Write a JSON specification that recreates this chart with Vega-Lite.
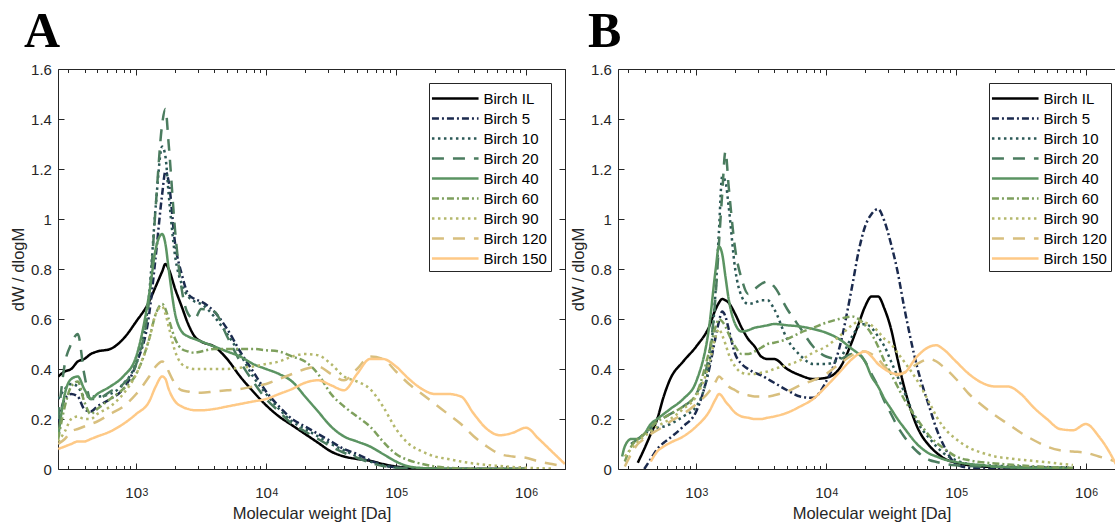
{
"$schema": "https://vega.github.io/schema/vega-lite/v6.json",
"padding": {"left": 10, "top": 7, "right": 0, "bottom": 0},
"spacing": 4,
"config": {
 "view": {"stroke": null},
 "font": "Liberation Sans",
 "axis": {"grid": false, "labelFont": "Liberation Sans", "titleFont": "Liberation Sans", "labelFontSize": 15, "titleFontSize": 16.5, "titleFontWeight": "normal", "labelColor": "#262626", "titleColor": "#262626", "domainColor": "#262626", "tickColor": "#262626", "domainWidth": 1, "tickWidth": 1, "labelFlush": false, "labelOverlap": false},
 "legend": {"orient": "top-right", "offset": 14, "padding": 4, "strokeColor": "#262626", "fillColor": "#ffffff", "symbolType": "M-2.33,0H2.33", "symbolSize": 400, "symbolOffset": 10.75, "symbolStrokeWidth": 2.5, "labelFont": "Liberation Sans", "labelFontSize": 15, "labelColor": "#000000", "labelOffset": 16.75, "rowPadding": 0, "labelLimit": 200}
},
"resolve": {"scale": {"x": "independent", "y": "independent", "color": "independent", "strokeDash": "independent"}, "axis": {"x": "independent", "y": "independent"}, "legend": {"color": "independent", "strokeDash": "independent"}},
"datasets": {
"a": [
{"m":251,"Birch IL":0.37,"Birch 5":0.19,"Birch 10":0.28,"Birch 20":0.2,"Birch 40":0.13,"Birch 60":0.12,"Birch 90":0.11,"Birch 120":0.1,"Birch 150":0.08},
{"m":282,"Birch IL":0.39,"Birch 5":0.28,"Birch 10":0.32,"Birch 20":0.42,"Birch 40":0.3,"Birch 60":0.25,"Birch 90":0.15,"Birch 120":0.12,"Birch 150":0.09},
{"m":316,"Birch IL":0.4,"Birch 5":0.3,"Birch 10":0.34,"Birch 20":0.5,"Birch 40":0.36,"Birch 60":0.33,"Birch 90":0.2,"Birch 120":0.15,"Birch 150":0.1},
{"m":355,"Birch IL":0.43,"Birch 5":0.29,"Birch 10":0.33,"Birch 20":0.54,"Birch 40":0.37,"Birch 60":0.35,"Birch 90":0.21,"Birch 120":0.16,"Birch 150":0.11},
{"m":398,"Birch IL":0.44,"Birch 5":0.24,"Birch 10":0.29,"Birch 20":0.38,"Birch 40":0.32,"Birch 60":0.27,"Birch 90":0.2,"Birch 120":0.17,"Birch 150":0.11},
{"m":447,"Birch IL":0.46,"Birch 5":0.23,"Birch 10":0.29,"Birch 20":0.28,"Birch 40":0.28,"Birch 60":0.22,"Birch 90":0.2,"Birch 120":0.18,"Birch 150":0.12},
{"m":501,"Birch IL":0.47,"Birch 5":0.25,"Birch 10":0.29,"Birch 20":0.28,"Birch 40":0.3,"Birch 60":0.24,"Birch 90":0.22,"Birch 120":0.19,"Birch 150":0.13},
{"m":631,"Birch IL":0.48,"Birch 5":0.28,"Birch 10":0.3,"Birch 20":0.31,"Birch 40":0.33,"Birch 60":0.28,"Birch 90":0.25,"Birch 120":0.22,"Birch 150":0.15},
{"m":794,"Birch IL":0.52,"Birch 5":0.32,"Birch 10":0.34,"Birch 20":0.34,"Birch 40":0.37,"Birch 60":0.32,"Birch 90":0.3,"Birch 120":0.25,"Birch 150":0.18},
{"m":1000,"Birch IL":0.59,"Birch 5":0.42,"Birch 10":0.43,"Birch 20":0.42,"Birch 40":0.45,"Birch 60":0.38,"Birch 90":0.38,"Birch 120":0.3,"Birch 150":0.22},
{"m":1259,"Birch IL":0.67,"Birch 5":0.62,"Birch 10":0.7,"Birch 20":0.68,"Birch 40":0.7,"Birch 60":0.52,"Birch 90":0.52,"Birch 120":0.37,"Birch 150":0.27},
{"m":1413,"Birch IL":0.73,"Birch 5":0.85,"Birch 10":1.05,"Birch 20":1.05,"Birch 40":0.88,"Birch 60":0.62,"Birch 90":0.62,"Birch 120":0.41,"Birch 150":0.33},
{"m":1585,"Birch IL":0.79,"Birch 5":1.1,"Birch 10":1.29,"Birch 20":1.38,"Birch 40":0.94,"Birch 60":0.66,"Birch 90":0.65,"Birch 120":0.43,"Birch 150":0.37},
{"m":1679,"Birch IL":0.82,"Birch 5":1.19,"Birch 10":1.25,"Birch 20":1.44,"Birch 40":0.9,"Birch 60":0.64,"Birch 90":0.62,"Birch 120":0.42,"Birch 150":0.36},
{"m":1778,"Birch IL":0.8,"Birch 5":1.15,"Birch 10":1.1,"Birch 20":1.3,"Birch 40":0.8,"Birch 60":0.6,"Birch 90":0.57,"Birch 120":0.39,"Birch 150":0.32},
{"m":1995,"Birch IL":0.72,"Birch 5":0.9,"Birch 10":0.85,"Birch 20":0.95,"Birch 40":0.62,"Birch 60":0.52,"Birch 90":0.47,"Birch 120":0.34,"Birch 150":0.27},
{"m":2239,"Birch IL":0.65,"Birch 5":0.78,"Birch 10":0.74,"Birch 20":0.72,"Birch 40":0.55,"Birch 60":0.48,"Birch 90":0.42,"Birch 120":0.315,"Birch 150":0.25},
{"m":2512,"Birch IL":0.58,"Birch 5":0.7,"Birch 10":0.69,"Birch 20":0.62,"Birch 40":0.53,"Birch 60":0.47,"Birch 90":0.405,"Birch 120":0.31,"Birch 150":0.24},
{"m":2818,"Birch IL":0.53,"Birch 5":0.68,"Birch 10":0.67,"Birch 20":0.6,"Birch 40":0.52,"Birch 60":0.465,"Birch 90":0.4,"Birch 120":0.305,"Birch 150":0.235},
{"m":3162,"Birch IL":0.51,"Birch 5":0.67,"Birch 10":0.66,"Birch 20":0.64,"Birch 40":0.51,"Birch 60":0.47,"Birch 90":0.4,"Birch 120":0.305,"Birch 150":0.235},
{"m":3981,"Birch IL":0.49,"Birch 5":0.63,"Birch 10":0.61,"Birch 20":0.63,"Birch 40":0.49,"Birch 60":0.48,"Birch 90":0.4,"Birch 120":0.31,"Birch 150":0.24},
{"m":5012,"Birch IL":0.44,"Birch 5":0.56,"Birch 10":0.54,"Birch 20":0.53,"Birch 40":0.47,"Birch 60":0.48,"Birch 90":0.4,"Birch 120":0.315,"Birch 150":0.25},
{"m":6310,"Birch IL":0.37,"Birch 5":0.47,"Birch 10":0.46,"Birch 20":0.43,"Birch 40":0.45,"Birch 60":0.48,"Birch 90":0.405,"Birch 120":0.32,"Birch 150":0.26},
{"m":7943,"Birch IL":0.31,"Birch 5":0.39,"Birch 10":0.37,"Birch 20":0.35,"Birch 40":0.42,"Birch 60":0.48,"Birch 90":0.41,"Birch 120":0.33,"Birch 150":0.27},
{"m":10000,"Birch IL":0.255,"Birch 5":0.31,"Birch 10":0.3,"Birch 20":0.28,"Birch 40":0.4,"Birch 60":0.475,"Birch 90":0.42,"Birch 120":0.34,"Birch 150":0.28},
{"m":12589,"Birch IL":0.21,"Birch 5":0.25,"Birch 10":0.24,"Birch 20":0.23,"Birch 40":0.38,"Birch 60":0.47,"Birch 90":0.43,"Birch 120":0.36,"Birch 150":0.3},
{"m":15849,"Birch IL":0.175,"Birch 5":0.2,"Birch 10":0.19,"Birch 20":0.18,"Birch 40":0.35,"Birch 60":0.45,"Birch 90":0.45,"Birch 120":0.38,"Birch 150":0.32},
{"m":19953,"Birch IL":0.14,"Birch 5":0.17,"Birch 10":0.16,"Birch 20":0.15,"Birch 40":0.29,"Birch 60":0.43,"Birch 90":0.46,"Birch 120":0.4,"Birch 150":0.345},
{"m":25119,"Birch IL":0.105,"Birch 5":0.14,"Birch 10":0.13,"Birch 20":0.12,"Birch 40":0.23,"Birch 60":0.38,"Birch 90":0.455,"Birch 120":0.41,"Birch 150":0.355},
{"m":31623,"Birch IL":0.07,"Birch 5":0.11,"Birch 10":0.1,"Birch 20":0.09,"Birch 40":0.17,"Birch 60":0.3,"Birch 90":0.42,"Birch 120":0.38,"Birch 150":0.335},
{"m":39811,"Birch IL":0.05,"Birch 5":0.08,"Birch 10":0.075,"Birch 20":0.065,"Birch 40":0.13,"Birch 60":0.25,"Birch 90":0.37,"Birch 120":0.355,"Birch 150":0.315},
{"m":50119,"Birch IL":0.04,"Birch 5":0.06,"Birch 10":0.05,"Birch 20":0.045,"Birch 40":0.11,"Birch 60":0.21,"Birch 90":0.35,"Birch 120":0.4,"Birch 150":0.38},
{"m":63096,"Birch IL":0.033,"Birch 5":0.035,"Birch 10":0.03,"Birch 20":0.025,"Birch 40":0.09,"Birch 60":0.17,"Birch 90":0.32,"Birch 120":0.45,"Birch 150":0.44},
{"m":79433,"Birch IL":0.02,"Birch 5":0.015,"Birch 10":0.015,"Birch 20":0.012,"Birch 40":0.06,"Birch 60":0.11,"Birch 90":0.25,"Birch 120":0.44,"Birch 150":0.44},
{"m":100000,"Birch IL":0.01,"Birch 5":0.007,"Birch 10":0.006,"Birch 20":0.005,"Birch 40":0.03,"Birch 60":0.06,"Birch 90":0.16,"Birch 120":0.39,"Birch 150":0.41},
{"m":125893,"Birch IL":0.005,"Birch 5":0.003,"Birch 10":0.002,"Birch 20":0.002,"Birch 40":0.01,"Birch 60":0.035,"Birch 90":0.1,"Birch 120":0.34,"Birch 150":0.36},
{"m":158489,"Birch IL":0.002,"Birch 5":0.001,"Birch 10":0,"Birch 20":0,"Birch 40":0.004,"Birch 60":0.02,"Birch 90":0.07,"Birch 120":0.3,"Birch 150":0.32},
{"m":199526,"Birch IL":0.001,"Birch 5":0,"Birch 10":0,"Birch 20":0,"Birch 40":0.002,"Birch 60":0.01,"Birch 90":0.05,"Birch 120":0.26,"Birch 150":0.3},
{"m":251189,"Birch IL":0,"Birch 5":0,"Birch 10":0,"Birch 20":0,"Birch 40":0.001,"Birch 60":0.005,"Birch 90":0.04,"Birch 120":0.22,"Birch 150":0.3},
{"m":316228,"Birch IL":0,"Birch 5":0,"Birch 10":0,"Birch 20":0,"Birch 40":0,"Birch 60":0.002,"Birch 90":0.03,"Birch 120":0.18,"Birch 150":0.29},
{"m":398107,"Birch IL":0,"Birch 5":0,"Birch 10":0,"Birch 20":0,"Birch 40":0,"Birch 60":0.001,"Birch 90":0.022,"Birch 120":0.13,"Birch 150":0.22},
{"m":501187,"Birch IL":0,"Birch 5":0,"Birch 10":0,"Birch 20":0,"Birch 40":0,"Birch 60":0,"Birch 90":0.016,"Birch 120":0.09,"Birch 150":0.16},
{"m":630957,"Birch IL":0,"Birch 5":0,"Birch 10":0,"Birch 20":0,"Birch 40":0,"Birch 60":0,"Birch 90":0.012,"Birch 120":0.06,"Birch 150":0.135},
{"m":794328,"Birch IL":0,"Birch 5":0,"Birch 10":0,"Birch 20":0,"Birch 40":0,"Birch 60":0,"Birch 90":0.008,"Birch 120":0.05,"Birch 150":0.145},
{"m":1000000,"Birch IL":0,"Birch 5":0,"Birch 10":0,"Birch 20":0,"Birch 40":0,"Birch 60":0,"Birch 90":0.005,"Birch 120":0.045,"Birch 150":0.165},
{"m":1258925,"Birch IL":null,"Birch 5":null,"Birch 10":null,"Birch 20":null,"Birch 40":null,"Birch 60":null,"Birch 90":0.003,"Birch 120":0.03,"Birch 150":0.12},
{"m":1584893,"Birch IL":null,"Birch 5":null,"Birch 10":null,"Birch 20":null,"Birch 40":null,"Birch 60":null,"Birch 90":0.002,"Birch 120":0.02,"Birch 150":0.07},
{"m":1995262,"Birch IL":null,"Birch 5":null,"Birch 10":null,"Birch 20":null,"Birch 40":null,"Birch 60":null,"Birch 90":null,"Birch 120":0.01,"Birch 150":0.02}
],
"b": [
{"m":269,"Birch IL":null,"Birch 5":null,"Birch 10":null,"Birch 20":null,"Birch 40":0.05,"Birch 60":null,"Birch 90":null,"Birch 120":null,"Birch 150":null},
{"m":282,"Birch IL":null,"Birch 5":null,"Birch 10":null,"Birch 20":null,"Birch 40":0.09,"Birch 60":0.03,"Birch 90":0.05,"Birch 120":0.01,"Birch 150":null},
{"m":316,"Birch IL":null,"Birch 5":null,"Birch 10":0.1,"Birch 20":0.1,"Birch 40":0.12,"Birch 60":0.09,"Birch 90":0.08,"Birch 120":0.06,"Birch 150":null},
{"m":355,"Birch IL":0.025,"Birch 5":null,"Birch 10":0.12,"Birch 20":0.12,"Birch 40":0.12,"Birch 60":0.12,"Birch 90":0.11,"Birch 120":0.1,"Birch 150":null},
{"m":398,"Birch IL":0.08,"Birch 5":0,"Birch 10":0.14,"Birch 20":0.14,"Birch 40":0.14,"Birch 60":0.14,"Birch 90":0.13,"Birch 120":0.12,"Birch 150":null},
{"m":447,"Birch IL":0.14,"Birch 5":0.04,"Birch 10":0.155,"Birch 20":0.165,"Birch 40":0.18,"Birch 60":0.165,"Birch 90":0.15,"Birch 120":0.14,"Birch 150":0.03},
{"m":501,"Birch IL":0.2,"Birch 5":0.08,"Birch 10":0.165,"Birch 20":0.19,"Birch 40":0.2,"Birch 60":0.19,"Birch 90":0.17,"Birch 120":0.155,"Birch 150":0.07},
{"m":562,"Birch IL":0.29,"Birch 5":0.105,"Birch 10":0.17,"Birch 20":0.205,"Birch 40":0.22,"Birch 60":0.205,"Birch 90":0.185,"Birch 120":0.17,"Birch 150":0.09},
{"m":631,"Birch IL":0.36,"Birch 5":0.125,"Birch 10":0.18,"Birch 20":0.22,"Birch 40":0.24,"Birch 60":0.22,"Birch 90":0.2,"Birch 120":0.19,"Birch 150":0.105},
{"m":794,"Birch IL":0.43,"Birch 5":0.17,"Birch 10":0.21,"Birch 20":0.25,"Birch 40":0.28,"Birch 60":0.25,"Birch 90":0.24,"Birch 120":0.22,"Birch 150":0.13},
{"m":1000,"Birch IL":0.49,"Birch 5":0.23,"Birch 10":0.25,"Birch 20":0.3,"Birch 40":0.35,"Birch 60":0.3,"Birch 90":0.29,"Birch 120":0.26,"Birch 150":0.17},
{"m":1259,"Birch IL":0.57,"Birch 5":0.4,"Birch 10":0.42,"Birch 20":0.46,"Birch 40":0.57,"Birch 60":0.47,"Birch 90":0.42,"Birch 120":0.31,"Birch 150":0.23},
{"m":1413,"Birch IL":0.64,"Birch 5":0.53,"Birch 10":0.72,"Birch 20":0.7,"Birch 40":0.8,"Birch 60":0.57,"Birch 90":0.53,"Birch 120":0.35,"Birch 150":0.28},
{"m":1496,"Birch IL":0.665,"Birch 5":0.59,"Birch 10":0.95,"Birch 20":0.9,"Birch 40":0.89,"Birch 60":0.6,"Birch 90":0.56,"Birch 120":0.37,"Birch 150":0.3},
{"m":1585,"Birch IL":0.68,"Birch 5":0.63,"Birch 10":1.17,"Birch 20":1.1,"Birch 40":0.86,"Birch 60":0.59,"Birch 90":0.535,"Birch 120":0.36,"Birch 150":0.29},
{"m":1679,"Birch IL":0.675,"Birch 5":0.61,"Birch 10":1.15,"Birch 20":1.27,"Birch 40":0.77,"Birch 60":0.57,"Birch 90":0.5,"Birch 120":0.345,"Birch 150":0.27},
{"m":1778,"Birch IL":0.665,"Birch 5":0.56,"Birch 10":1.05,"Birch 20":1.13,"Birch 40":0.68,"Birch 60":0.54,"Birch 90":0.46,"Birch 120":0.33,"Birch 150":0.255},
{"m":1995,"Birch IL":0.62,"Birch 5":0.46,"Birch 10":0.8,"Birch 20":0.88,"Birch 40":0.58,"Birch 60":0.49,"Birch 90":0.41,"Birch 120":0.315,"Birch 150":0.225},
{"m":2239,"Birch IL":0.565,"Birch 5":0.42,"Birch 10":0.69,"Birch 20":0.76,"Birch 40":0.55,"Birch 60":0.46,"Birch 90":0.385,"Birch 120":0.3,"Birch 150":0.21},
{"m":2512,"Birch IL":0.52,"Birch 5":0.4,"Birch 10":0.66,"Birch 20":0.7,"Birch 40":0.555,"Birch 60":0.46,"Birch 90":0.38,"Birch 120":0.295,"Birch 150":0.205},
{"m":2818,"Birch IL":0.49,"Birch 5":0.385,"Birch 10":0.665,"Birch 20":0.72,"Birch 40":0.565,"Birch 60":0.47,"Birch 90":0.38,"Birch 120":0.29,"Birch 150":0.2},
{"m":3162,"Birch IL":0.45,"Birch 5":0.375,"Birch 10":0.675,"Birch 20":0.74,"Birch 40":0.57,"Birch 60":0.485,"Birch 90":0.385,"Birch 120":0.29,"Birch 150":0.2},
{"m":3548,"Birch IL":0.44,"Birch 5":0.36,"Birch 10":0.675,"Birch 20":0.75,"Birch 40":0.575,"Birch 60":0.5,"Birch 90":0.39,"Birch 120":0.29,"Birch 150":0.205},
{"m":3981,"Birch IL":0.44,"Birch 5":0.345,"Birch 10":0.64,"Birch 20":0.73,"Birch 40":0.58,"Birch 60":0.505,"Birch 90":0.4,"Birch 120":0.295,"Birch 150":0.21},
{"m":5012,"Birch IL":0.4,"Birch 5":0.315,"Birch 10":0.52,"Birch 20":0.64,"Birch 40":0.575,"Birch 60":0.52,"Birch 90":0.415,"Birch 120":0.31,"Birch 150":0.225},
{"m":6310,"Birch IL":0.375,"Birch 5":0.29,"Birch 10":0.455,"Birch 20":0.565,"Birch 40":0.57,"Birch 60":0.545,"Birch 90":0.435,"Birch 120":0.335,"Birch 150":0.25},
{"m":7943,"Birch IL":0.36,"Birch 5":0.285,"Birch 10":0.42,"Birch 20":0.49,"Birch 40":0.56,"Birch 60":0.565,"Birch 90":0.465,"Birch 120":0.355,"Birch 150":0.28},
{"m":10000,"Birch IL":0.365,"Birch 5":0.35,"Birch 10":0.42,"Birch 20":0.45,"Birch 40":0.545,"Birch 60":0.585,"Birch 90":0.49,"Birch 120":0.38,"Birch 150":0.33},
{"m":12589,"Birch IL":0.4,"Birch 5":0.48,"Birch 10":0.44,"Birch 20":0.44,"Birch 40":0.52,"Birch 60":0.6,"Birch 90":0.53,"Birch 120":0.42,"Birch 150":0.385},
{"m":15849,"Birch IL":0.51,"Birch 5":0.73,"Birch 10":0.53,"Birch 20":0.46,"Birch 40":0.48,"Birch 60":0.61,"Birch 90":0.575,"Birch 120":0.455,"Birch 150":0.44},
{"m":17783,"Birch IL":0.58,"Birch 5":0.87,"Birch 10":0.57,"Birch 20":0.46,"Birch 40":0.46,"Birch 60":0.6,"Birch 90":0.59,"Birch 120":0.47,"Birch 150":0.46},
{"m":19953,"Birch IL":0.65,"Birch 5":0.97,"Birch 10":0.58,"Birch 20":0.43,"Birch 40":0.43,"Birch 60":0.575,"Birch 90":0.585,"Birch 120":0.47,"Birch 150":0.47},
{"m":22387,"Birch IL":0.69,"Birch 5":1.02,"Birch 10":0.565,"Birch 20":0.38,"Birch 40":0.37,"Birch 60":0.54,"Birch 90":0.575,"Birch 120":0.46,"Birch 150":0.45},
{"m":25119,"Birch IL":0.69,"Birch 5":1.04,"Birch 10":0.53,"Birch 20":0.33,"Birch 40":0.33,"Birch 60":0.49,"Birch 90":0.55,"Birch 120":0.44,"Birch 150":0.42},
{"m":28184,"Birch IL":0.64,"Birch 5":0.99,"Birch 10":0.49,"Birch 20":0.27,"Birch 40":0.28,"Birch 60":0.43,"Birch 90":0.52,"Birch 120":0.41,"Birch 150":0.4},
{"m":31623,"Birch IL":0.56,"Birch 5":0.9,"Birch 10":0.43,"Birch 20":0.22,"Birch 40":0.24,"Birch 60":0.38,"Birch 90":0.5,"Birch 120":0.385,"Birch 150":0.385},
{"m":35481,"Birch IL":0.44,"Birch 5":0.79,"Birch 10":0.37,"Birch 20":0.17,"Birch 40":0.2,"Birch 60":0.33,"Birch 90":0.465,"Birch 120":0.375,"Birch 150":0.38},
{"m":39811,"Birch IL":0.33,"Birch 5":0.65,"Birch 10":0.31,"Birch 20":0.13,"Birch 40":0.165,"Birch 60":0.28,"Birch 90":0.43,"Birch 120":0.385,"Birch 150":0.385},
{"m":50119,"Birch IL":0.17,"Birch 5":0.41,"Birch 10":0.19,"Birch 20":0.07,"Birch 40":0.1,"Birch 60":0.2,"Birch 90":0.355,"Birch 120":0.42,"Birch 150":0.45},
{"m":63096,"Birch IL":0.09,"Birch 5":0.24,"Birch 10":0.12,"Birch 20":0.035,"Birch 40":0.06,"Birch 60":0.13,"Birch 90":0.26,"Birch 120":0.44,"Birch 150":0.49},
{"m":70795,"Birch IL":0.065,"Birch 5":0.16,"Birch 10":0.09,"Birch 20":0.028,"Birch 40":0.05,"Birch 60":0.105,"Birch 90":0.21,"Birch 120":0.43,"Birch 150":0.495},
{"m":79433,"Birch IL":0.045,"Birch 5":0.1,"Birch 10":0.065,"Birch 20":0.022,"Birch 40":0.04,"Birch 60":0.085,"Birch 90":0.17,"Birch 120":0.41,"Birch 150":0.48},
{"m":100000,"Birch IL":0.025,"Birch 5":0.02,"Birch 10":0.035,"Birch 20":0.015,"Birch 40":0.028,"Birch 60":0.05,"Birch 90":0.12,"Birch 120":0.36,"Birch 150":0.43},
{"m":125893,"Birch IL":0.015,"Birch 5":0.005,"Birch 10":0.02,"Birch 20":0.012,"Birch 40":0.02,"Birch 60":0.035,"Birch 90":0.085,"Birch 120":0.3,"Birch 150":0.38},
{"m":158489,"Birch IL":0.01,"Birch 5":0.002,"Birch 10":0.015,"Birch 20":0.01,"Birch 40":0.015,"Birch 60":0.027,"Birch 90":0.065,"Birch 120":0.255,"Birch 150":0.345},
{"m":199526,"Birch IL":0.008,"Birch 5":0,"Birch 10":0.013,"Birch 20":0.009,"Birch 40":0.01,"Birch 60":0.022,"Birch 90":0.05,"Birch 120":0.215,"Birch 150":0.33},
{"m":251189,"Birch IL":0.006,"Birch 5":0,"Birch 10":0.011,"Birch 20":0.008,"Birch 40":0.007,"Birch 60":0.018,"Birch 90":0.043,"Birch 120":0.18,"Birch 150":0.33},
{"m":316228,"Birch IL":0.005,"Birch 5":0,"Birch 10":0.01,"Birch 20":0.007,"Birch 40":0.005,"Birch 60":0.014,"Birch 90":0.037,"Birch 120":0.145,"Birch 150":0.3},
{"m":398107,"Birch IL":0.005,"Birch 5":0,"Birch 10":0.008,"Birch 20":0.006,"Birch 40":0.004,"Birch 60":0.011,"Birch 90":0.032,"Birch 120":0.115,"Birch 150":0.245},
{"m":501187,"Birch IL":0.005,"Birch 5":0,"Birch 10":0.007,"Birch 20":0.005,"Birch 40":0.003,"Birch 60":0.008,"Birch 90":0.027,"Birch 120":0.09,"Birch 150":0.2},
{"m":630957,"Birch IL":0.004,"Birch 5":0,"Birch 10":0.006,"Birch 20":0.005,"Birch 40":0.002,"Birch 60":0.006,"Birch 90":0.021,"Birch 120":0.075,"Birch 150":0.16},
{"m":794328,"Birch IL":0.003,"Birch 5":0,"Birch 10":0.005,"Birch 20":0.005,"Birch 40":0.002,"Birch 60":0.005,"Birch 90":0.016,"Birch 120":0.07,"Birch 150":0.155},
{"m":1000000,"Birch IL":null,"Birch 5":null,"Birch 10":null,"Birch 20":null,"Birch 40":null,"Birch 60":null,"Birch 90":null,"Birch 120":0.065,"Birch 150":0.18},
{"m":1258925,"Birch IL":null,"Birch 5":null,"Birch 10":null,"Birch 20":null,"Birch 40":null,"Birch 60":null,"Birch 90":null,"Birch 120":0.05,"Birch 150":0.13},
{"m":1584893,"Birch IL":null,"Birch 5":null,"Birch 10":null,"Birch 20":null,"Birch 40":null,"Birch 60":null,"Birch 90":null,"Birch 120":0.035,"Birch 150":0.05},
{"m":1698244,"Birch IL":null,"Birch 5":null,"Birch 10":null,"Birch 20":null,"Birch 40":null,"Birch 60":null,"Birch 90":null,"Birch 120":0.03,"Birch 150":0.02}
]
},
"hconcat": [
{
 "width": 507, "height": 400,
 "title": {"text": "A", "anchor": "start", "frame": "group", "dx": -34, "offset": -35, "baseline": "alphabetic", "font": "Liberation Serif", "fontSize": 50, "fontWeight": "bold", "color": "#000000"},
 "data": {"name": "a"},
 "transform": [{"fold": ["Birch IL", "Birch 5", "Birch 10", "Birch 20", "Birch 40", "Birch 60", "Birch 90", "Birch 120", "Birch 150"], "as": ["s", "v"]}],
 "layer": [
  {"mark": {"type": "line", "strokeWidth": 2.5, "clip": true, "interpolate": "monotone", "invalid": "break-paths-show-domains"},
   "encoding": {
    "x": {"field": "m", "type": "quantitative", "scale": {"type": "log", "domain": [250, 2000000], "nice": false}, "axis": {"orient": "bottom", "values": [1000, 10000, 100000, 1000000], "tickSize": -6, "labelExpr": "'10'", "labelOffset": -3, "labelPadding": 22, "labelBaseline": "top", "title": "Molecular weight [Da]", "titlePadding": 5, "domain": true}},
    "y": {"field": "v", "type": "quantitative", "scale": {"domain": [0, 1.6], "nice": false, "zero": false}, "axis": {"orient": "left", "values": [0, 0.2, 0.4, 0.6, 0.8, 1, 1.2, 1.4, 1.6], "tickSize": -6, "format": ".1~f", "labelPadding": 12.6, "title": "dW / dlogM", "titlePadding": 4, "domain": true}},
    "color": {"field": "s", "type": "nominal", "scale": {"domain": ["Birch IL", "Birch 5", "Birch 10", "Birch 20", "Birch 40", "Birch 60", "Birch 90", "Birch 120", "Birch 150"], "range": ["#000000", "#1b2a4e", "#2b5856", "#4b7c5f", "#5b9462", "#7ea05d", "#b4b86c", "#d8bf7e", "#fec986"]}, "legend": {"title": null}},
    "strokeDash": {"field": "s", "type": "nominal", "scale": {"domain": ["Birch IL", "Birch 5", "Birch 10", "Birch 20", "Birch 40", "Birch 60", "Birch 90", "Birch 120", "Birch 150"], "range": [[1, 0], [7, 3, 2, 3], [2.5, 3.5], [12, 9], [1, 0], [7, 3, 2, 3], [2.5, 3.5], [12, 9], [1, 0]]}, "legend": {"title": null}}
   }},
  {"mark": {"type": "point", "opacity": 0, "size": 1},
   "encoding": {
    "x": {"field": "m", "type": "quantitative", "scale": {"type": "log", "domain": [250, 2000000], "nice": false}, "axis": {"orient": "bottom", "values": [300, 400, 500, 600, 700, 800, 900, 2000, 3000, 4000, 5000, 6000, 7000, 8000, 9000, 20000, 30000, 40000, 50000, 60000, 70000, 80000, 90000, 200000, 300000, 400000, 500000, 600000, 700000, 800000, 900000, 2000000], "tickSize": -3.5, "labels": false, "domain": false, "title": null}},
    "y": {"field": "v", "type": "quantitative", "scale": {"domain": [0, 1.6], "nice": false, "zero": false}, "axis": {"orient": "right", "values": [0, 0.2, 0.4, 0.6, 0.8, 1, 1.2, 1.4, 1.6], "tickSize": -6, "labels": false, "domain": true, "title": null}}
   }},
  {"mark": {"type": "point", "opacity": 0, "size": 1},
   "encoding": {
    "x": {"field": "m", "type": "quantitative", "scale": {"type": "log", "domain": [250, 2000000], "nice": false}, "axis": {"orient": "top", "values": [1000, 10000, 100000, 1000000], "tickSize": -6, "labels": false, "domain": true, "title": null}},
    "y": {"field": "v", "type": "quantitative", "scale": {"domain": [0, 1.6], "nice": false, "zero": false}, "axis": null}
   }},
  {"mark": {"type": "point", "opacity": 0, "size": 1},
   "encoding": {
    "x": {"field": "m", "type": "quantitative", "scale": {"type": "log", "domain": [250, 2000000], "nice": false}, "axis": {"orient": "top", "values": [300, 400, 500, 600, 700, 800, 900, 2000, 3000, 4000, 5000, 6000, 7000, 8000, 9000, 20000, 30000, 40000, 50000, 60000, 70000, 80000, 90000, 200000, 300000, 400000, 500000, 600000, 700000, 800000, 900000, 2000000], "tickSize": -3.5, "labels": false, "domain": false, "title": null}},
    "y": {"field": "v", "type": "quantitative", "scale": {"domain": [0, 1.6], "nice": false, "zero": false}, "axis": null}
   }},
  {"mark": {"type": "point", "opacity": 0, "size": 1},
   "encoding": {
    "x": {"field": "m", "type": "quantitative", "scale": {"type": "log", "domain": [250, 2000000], "nice": false}, "axis": {"orient": "bottom", "values": [1000, 10000, 100000, 1000000], "ticks": false, "domain": false, "labelExpr": "datum.value == 1000 ? '3' : datum.value == 10000 ? '4' : datum.value == 100000 ? '5' : '6'", "labelFontSize": 10.5, "labelOffset": 8.7, "labelPadding": 18, "labelBaseline": "top", "title": null}},
    "y": {"field": "v", "type": "quantitative", "scale": {"domain": [0, 1.6], "nice": false, "zero": false}, "axis": null}
   }}
 ],
 "resolve": {"axis": {"x": "independent", "y": "independent"}}
},
{
 "width": 507, "height": 400,
 "title": {"text": "B", "anchor": "start", "frame": "group", "dx": -30, "offset": -35, "baseline": "alphabetic", "font": "Liberation Serif", "fontSize": 50, "fontWeight": "bold", "color": "#000000"},
 "data": {"name": "b"},
 "transform": [{"fold": ["Birch IL", "Birch 5", "Birch 10", "Birch 20", "Birch 40", "Birch 60", "Birch 90", "Birch 120", "Birch 150"], "as": ["s", "v"]}],
 "layer": [
  {"mark": {"type": "line", "strokeWidth": 2.5, "clip": true, "interpolate": "monotone", "invalid": "break-paths-show-domains"},
   "encoding": {
    "x": {"field": "m", "type": "quantitative", "scale": {"type": "log", "domain": [250, 2000000], "nice": false}, "axis": {"orient": "bottom", "values": [1000, 10000, 100000, 1000000], "tickSize": -6, "labelExpr": "'10'", "labelOffset": -3, "labelPadding": 22, "labelBaseline": "top", "title": "Molecular weight [Da]", "titlePadding": 5, "domain": true}},
    "y": {"field": "v", "type": "quantitative", "scale": {"domain": [0, 1.6], "nice": false, "zero": false}, "axis": {"orient": "left", "values": [0, 0.2, 0.4, 0.6, 0.8, 1, 1.2, 1.4, 1.6], "tickSize": -6, "format": ".1~f", "labelPadding": 12.6, "title": "dW / dlogM", "titlePadding": 4, "domain": true}},
    "color": {"field": "s", "type": "nominal", "scale": {"domain": ["Birch IL", "Birch 5", "Birch 10", "Birch 20", "Birch 40", "Birch 60", "Birch 90", "Birch 120", "Birch 150"], "range": ["#000000", "#1b2a4e", "#2b5856", "#4b7c5f", "#5b9462", "#7ea05d", "#b4b86c", "#d8bf7e", "#fec986"]}, "legend": {"title": null}},
    "strokeDash": {"field": "s", "type": "nominal", "scale": {"domain": ["Birch IL", "Birch 5", "Birch 10", "Birch 20", "Birch 40", "Birch 60", "Birch 90", "Birch 120", "Birch 150"], "range": [[1, 0], [7, 3, 2, 3], [2.5, 3.5], [12, 9], [1, 0], [7, 3, 2, 3], [2.5, 3.5], [12, 9], [1, 0]]}, "legend": {"title": null}}
   }},
  {"mark": {"type": "point", "opacity": 0, "size": 1},
   "encoding": {
    "x": {"field": "m", "type": "quantitative", "scale": {"type": "log", "domain": [250, 2000000], "nice": false}, "axis": {"orient": "bottom", "values": [300, 400, 500, 600, 700, 800, 900, 2000, 3000, 4000, 5000, 6000, 7000, 8000, 9000, 20000, 30000, 40000, 50000, 60000, 70000, 80000, 90000, 200000, 300000, 400000, 500000, 600000, 700000, 800000, 900000, 2000000], "tickSize": -3.5, "labels": false, "domain": false, "title": null}},
    "y": {"field": "v", "type": "quantitative", "scale": {"domain": [0, 1.6], "nice": false, "zero": false}, "axis": {"orient": "right", "values": [0, 0.2, 0.4, 0.6, 0.8, 1, 1.2, 1.4, 1.6], "tickSize": -6, "labels": false, "domain": true, "title": null}}
   }},
  {"mark": {"type": "point", "opacity": 0, "size": 1},
   "encoding": {
    "x": {"field": "m", "type": "quantitative", "scale": {"type": "log", "domain": [250, 2000000], "nice": false}, "axis": {"orient": "top", "values": [1000, 10000, 100000, 1000000], "tickSize": -6, "labels": false, "domain": true, "title": null}},
    "y": {"field": "v", "type": "quantitative", "scale": {"domain": [0, 1.6], "nice": false, "zero": false}, "axis": null}
   }},
  {"mark": {"type": "point", "opacity": 0, "size": 1},
   "encoding": {
    "x": {"field": "m", "type": "quantitative", "scale": {"type": "log", "domain": [250, 2000000], "nice": false}, "axis": {"orient": "top", "values": [300, 400, 500, 600, 700, 800, 900, 2000, 3000, 4000, 5000, 6000, 7000, 8000, 9000, 20000, 30000, 40000, 50000, 60000, 70000, 80000, 90000, 200000, 300000, 400000, 500000, 600000, 700000, 800000, 900000, 2000000], "tickSize": -3.5, "labels": false, "domain": false, "title": null}},
    "y": {"field": "v", "type": "quantitative", "scale": {"domain": [0, 1.6], "nice": false, "zero": false}, "axis": null}
   }},
  {"mark": {"type": "point", "opacity": 0, "size": 1},
   "encoding": {
    "x": {"field": "m", "type": "quantitative", "scale": {"type": "log", "domain": [250, 2000000], "nice": false}, "axis": {"orient": "bottom", "values": [1000, 10000, 100000, 1000000], "ticks": false, "domain": false, "labelExpr": "datum.value == 1000 ? '3' : datum.value == 10000 ? '4' : datum.value == 100000 ? '5' : '6'", "labelFontSize": 10.5, "labelOffset": 8.7, "labelPadding": 18, "labelBaseline": "top", "title": null}},
    "y": {"field": "v", "type": "quantitative", "scale": {"domain": [0, 1.6], "nice": false, "zero": false}, "axis": null}
   }}
 ],
 "resolve": {"axis": {"x": "independent", "y": "independent"}}
}
]
}
